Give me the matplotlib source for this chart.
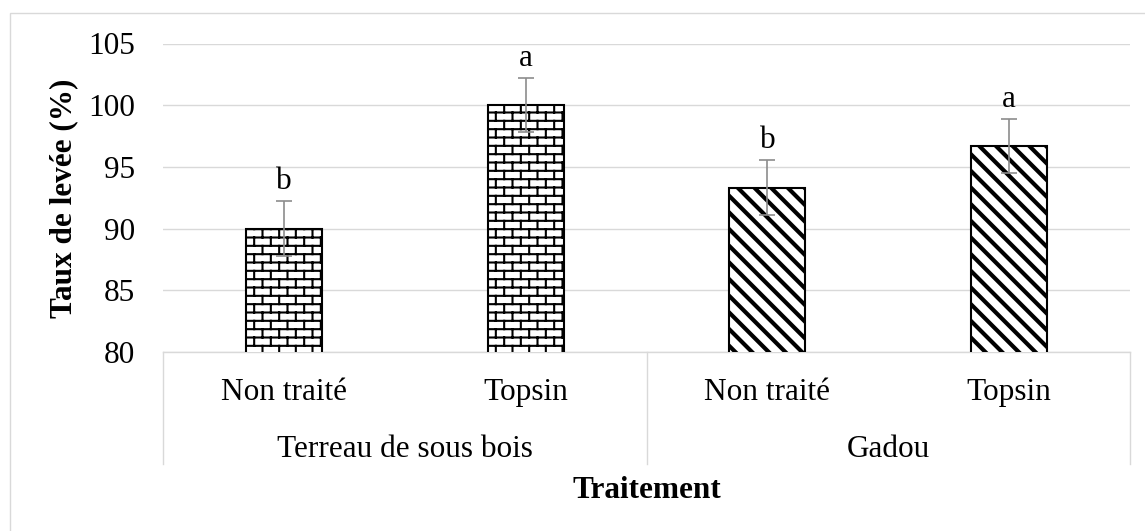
import warnings
import numpy as np
import matplotlib
matplotlib.use('Agg')
import matplotlib.pyplot as plt
import matplotlib.transforms as mtransforms
from matplotlib import hatch as mhatch
from matplotlib.patches import Rectangle
from matplotlib.lines import Line2D

warnings.filterwarnings('ignore')

# data
groups    = ['Terreau de sous bois', 'Gadou']
treatment = ['Non traité', 'Topsin', 'Non traité', 'Topsin']
values    = [90.0, 100.0, 93.33, 96.67]
errors    = [2.2, 2.2, 2.2, 2.2]
letters   = ['b', 'a', 'b', 'a']
yticks    = [80, 85, 90, 95, 100, 105]


class BrickHatch(mhatch.HatchPatternBase):
    """brick wall hatch, selected with the letter 'B'"""
    def __init__(self, hatch, density):
        n = hatch.count('B')
        self.segs = []
        if n:
            rows, cols = 12 * n, 6 * n
            for i in range(rows):
                y = (i + 0.5) / rows
                self.segs.append(((0.0, y), (1.0, y)))
            for i in range(rows):
                y0 = (i + 0.5) / rows
                y1 = y0 + 1.0 / rows
                for j in range(cols):
                    x = (j + 0.25 + 0.5 * (i % 2)) / cols
                    if y1 <= 1.0:
                        self.segs.append(((x, y0), (x, y1)))
                    else:
                        self.segs.append(((x, y0), (x, 1.0)))
                        self.segs.append(((x, 0.0), (x, y1 - 1.0)))
        self.num_vertices = 2 * len(self.segs)

    def set_vertices_and_codes(self, vertices, codes):
        for k, (a, b) in enumerate(self.segs):
            vertices[2*k]   = a
            vertices[2*k+1] = b
            codes[2*k]   = mhatch.Path.MOVETO
            codes[2*k+1] = mhatch.Path.LINETO


mhatch._hatch_types.append(BrickHatch)

plt.rcParams['font.family'] = ['Liberation Serif', 'DejaVu Serif']
plt.rcParams['font.size'] = 22.5

W, H = 1145, 531
fig = plt.figure(figsize=(W/100, H/100), dpi=100)
ax = fig.add_axes([163/W, (H-352)/H, (1130-163)/W, (352-43.5)/H])

grid_col = '#d9d9d9'
x = np.arange(len(values))
hatches = ['B', 'B', '\\\\', '\\\\']
hlw     = [1.5, 1.5, 3.0, 3.0]

bars = ax.bar(x, values, width=0.315, bottom=0, color='white',
              edgecolor='black', linewidth=1.5, zorder=3)
for b, h, lw in zip(bars, hatches, hlw):
    b.set_hatch(h)
    if hasattr(b, 'set_hatch_linewidth'):
        b.set_hatch_linewidth(lw)

ax.errorbar(x, values, yerr=errors, fmt='none', ecolor='#8c8c8c',
            elinewidth=1.2, capsize=5.5, capthick=1.2, zorder=4)

for xi, v, e, l in zip(x, values, errors, letters):
    ax.annotate(l, (xi, v + e), xytext=(0, 9), textcoords='offset points',
                ha='center', va='baseline', zorder=5)

ax.set_ylim(80, 105)
ax.set_xlim(-0.5, 3.5)
ax.set_yticks(yticks)
ax.set_xticks([])
ax.tick_params(axis='y', length=0, pad=20)
ax.yaxis.grid(True, color=grid_col, linewidth=1.0, zorder=0)
ax.set_axisbelow(True)
for s in ['left', 'right', 'top']:
    ax.spines[s].set_visible(False)
ax.spines['bottom'].set_color(grid_col)
ax.spines['bottom'].set_linewidth(1.0)

# multi level category axis
ph = 352 - 43.5
trans = mtransforms.blended_transform_factory(ax.transData, ax.transAxes)
for xi, t in zip(x, treatment):
    ax.text(xi, -(400 - 352)/ph, t, transform=trans, ha='center', va='baseline')
for gi, g in enumerate(groups):
    ax.text(2*gi + 0.5, -(457 - 352)/ph, g, transform=trans, ha='center', va='baseline')
for xs in [-0.5, 1.5, 3.5]:
    ax.add_line(Line2D([xs, xs], [0, -(464 - 352)/ph], transform=trans,
                       color=grid_col, linewidth=1.0, clip_on=False))

ax.text(1.5, -(498 - 352)/ph, 'Traitement', transform=trans, ha='center',
        va='baseline', fontweight='bold')
fig.text(64/W, 1 - 198/H, 'Taux de levée (%)', rotation=90, ha='center',
         va='center', fontweight='bold')

# chart border
fig.add_artist(Rectangle((10/W, -0.5), 2, 1.5 - 13/H, transform=fig.transFigure,
                         facecolor='none', edgecolor=grid_col, linewidth=1.0))

fig.savefig('out.png', dpi=100)
